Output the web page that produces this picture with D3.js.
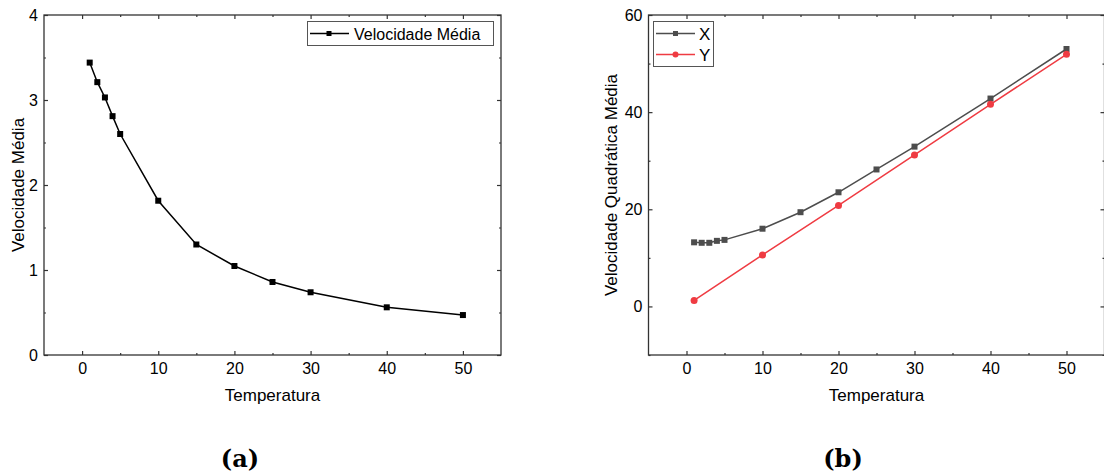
<!DOCTYPE html>
<html><head><meta charset="utf-8">
<script src="https://cdn.jsdelivr.net/npm/d3@7/dist/d3.min.js"></script>
<style>body{margin:0;background:#fff}svg{display:block}</style>
</head><body>
<svg id="c" width="1104" height="475"></svg>
<script>
const temps = [1,2,3,4,5,10,15,20,25,30,40,50];
const velMedia = [3.44,3.21,3.03,2.81,2.60,1.815,1.30,1.047,0.859,0.738,0.561,0.47];
const tempsX = [1,2,3,4,5,10,15,20,25,30,40,50];
const vqmX = [13.2,13.1,13.1,13.5,13.7,16.0,19.4,23.5,28.2,32.9,42.8,53.0];
const tempsY = [1,10,20,30,40,50];
const vqmY = [1.24,10.6,20.8,31.2,41.6,51.9];
const xTicks = [0,10,20,30,40,50];
const yTicksA = [0,1,2,3,4];
const yTicksB = [0,20,40,60];

const svg = d3.select('#c');
const FONT = 'Liberation Sans, Arial, sans-serif';
const frameColor = '#333';

function panel(opt){
  const g = svg.append('g');
  const x = d3.scaleLinear().domain([-5,55]).range([opt.x0,opt.x1]);
  const y = d3.scaleLinear().domain(opt.ydom).range([opt.y1,opt.y0]);
  const xMinor = d3.range(-5,56,5).filter(v=>v%10!==0 && v>-5 && v<55);
  const yMinor = opt.yMinor;
  const bottom = d3.axisBottom(x).tickValues(xTicks).tickSize(-4).tickPadding(8).tickFormat(d3.format('d'));
  const left = d3.axisLeft(y).tickValues(opt.yTicks).tickSize(-4).tickPadding(6).tickFormat(d3.format('d'));
  const top = d3.axisTop(x).tickValues(xTicks).tickSize(-4).tickFormat('');
  const right = d3.axisRight(y).tickValues(opt.yTicks).tickSize(-4).tickFormat('');
  const mk = (ax, tr) => {
    const a = g.append('g').attr('transform',tr).call(ax);
    a.select('.domain').remove();
    a.selectAll('line').attr('stroke',frameColor).attr('stroke-width',1.2);
    a.selectAll('text').attr('font-family',FONT).attr('font-size',16).attr('fill','#000');
    return a;
  };
  mk(bottom,`translate(0,${opt.y1})`);
  mk(left,`translate(${opt.x0},0)`);
  mk(top,`translate(0,${opt.y0})`);
  mk(right,`translate(${opt.x1},0)`);
  const mkMinor = (ax,tr)=>{
    const a = g.append('g').attr('transform',tr).call(ax);
    a.select('.domain').remove();
    a.selectAll('line').attr('stroke',frameColor).attr('stroke-width',1.2);
  };
  mkMinor(d3.axisBottom(x).tickValues(xMinor).tickSize(-2).tickFormat(''),`translate(0,${opt.y1})`);
  mkMinor(d3.axisTop(x).tickValues(xMinor).tickSize(-2).tickFormat(''),`translate(0,${opt.y0})`);
  mkMinor(d3.axisLeft(y).tickValues(yMinor).tickSize(-2).tickFormat(''),`translate(${opt.x0},0)`);
  mkMinor(d3.axisRight(y).tickValues(yMinor).tickSize(-2).tickFormat(''),`translate(${opt.x1},0)`);
  g.append('rect').attr('x',opt.x0).attr('y',opt.y0).attr('width',opt.x1-opt.x0).attr('height',opt.y1-opt.y0)
    .attr('fill','none').attr('stroke',frameColor).attr('stroke-width',1.3);
  g.append('text').attr('x',(opt.x0+opt.x1)/2).attr('y',401).attr('text-anchor','middle')
    .attr('font-family',FONT).attr('font-size',17).text('Temperatura');
  g.append('text').attr('transform',`translate(${opt.ytx},${(opt.y0+opt.y1)/2}) rotate(-90)`).attr('text-anchor','middle')
    .attr('font-family',FONT).attr('font-size',17).text(opt.ytitle);
  g.append('text').attr('x',opt.capx).attr('y',467).attr('text-anchor','middle')
    .attr('font-family','DejaVu Serif, Liberation Serif, serif').attr('font-weight','bold').attr('font-size',24).text(opt.cap);
  return {g,x,y};
}

// Panel (a)
const A = panel({x0:44,x1:501,y0:15,y1:355,ydom:[0,4],yTicks:yTicksA,yMinor:[0.5,1.5,2.5,3.5],
  ytx:24,ytitle:'Velocidade Média',capx:240,cap:'(a)'});
const dA = temps.map((t,i)=>[t,velMedia[i]]);
A.g.append('path').datum(dA).attr('fill','none').attr('stroke','#000').attr('stroke-width',1.5)
  .attr('d',d3.line().x(d=>A.x(d[0])).y(d=>A.y(d[1])));
A.g.selectAll('rect.m').data(dA).enter().append('rect').attr('class','m')
  .attr('x',d=>A.x(d[0])-3).attr('y',d=>A.y(d[1])-3).attr('width',6).attr('height',6).attr('fill','#000');
const LA = A.g.append('g');
LA.append('rect').attr('x',307.5).attr('y',21.5).attr('width',186).attr('height',24).attr('fill','#fff').attr('stroke','#555').attr('stroke-width',1);
LA.append('line').attr('x1',310).attr('x2',349).attr('y1',33.5).attr('y2',33.5).attr('stroke','#000').attr('stroke-width',1.5);
LA.append('rect').attr('x',326.5).attr('y',31).attr('width',5).attr('height',5).attr('fill','#000');
LA.append('text').attr('x',354).attr('y',39.5).attr('font-family',FONT).attr('font-size',16).text('Velocidade Média');

// Panel (b)
const B = panel({x0:648.5,x1:1104.5,y0:15,y1:355,ydom:[-10,60],yTicks:yTicksB,yMinor:[-10,10,30,50],
  ytx:617,ytitle:'Velocidade Quadrática Média',capx:843,cap:'(b)'});
const grayC = '#4d4d4d', redC = '#ef3b42';
const dX = tempsX.map((t,i)=>[t,vqmX[i]]);
const dY = tempsY.map((t,i)=>[t,vqmY[i]]);
const ln = d3.line().x(d=>B.x(d[0])).y(d=>B.y(d[1]));
B.g.append('path').datum(dX).attr('fill','none').attr('stroke',grayC).attr('stroke-width',1.5).attr('d',ln);
B.g.append('path').datum(dY).attr('fill','none').attr('stroke',redC).attr('stroke-width',1.5).attr('d',ln);
B.g.selectAll('rect.mx').data(dX).enter().append('rect').attr('class','mx')
  .attr('x',d=>B.x(d[0])-3).attr('y',d=>B.y(d[1])-3).attr('width',6).attr('height',6).attr('fill',grayC);
B.g.selectAll('circle.my').data(dY).enter().append('circle').attr('class','my')
  .attr('cx',d=>B.x(d[0])).attr('cy',d=>B.y(d[1])).attr('r',3.5).attr('fill',redC);
const LB = B.g.append('g');
LB.append('rect').attr('x',653.5).attr('y',21.5).attr('width',60).attr('height',45).attr('fill','#fff').attr('stroke','#555').attr('stroke-width',1);
LB.append('line').attr('x1',656).attr('x2',695).attr('y1',33.5).attr('y2',33.5).attr('stroke',grayC).attr('stroke-width',1.5);
LB.append('rect').attr('x',673).attr('y',31).attr('width',5).attr('height',5).attr('fill',grayC);
LB.append('text').attr('x',699).attr('y',40).attr('font-family',FONT).attr('font-size',17).text('X');
LB.append('line').attr('x1',656).attr('x2',695).attr('y1',54.5).attr('y2',54.5).attr('stroke',redC).attr('stroke-width',1.5);
LB.append('circle').attr('cx',675.5).attr('cy',54.5).attr('r',3).attr('fill',redC);
LB.append('text').attr('x',699).attr('y',61).attr('font-family',FONT).attr('font-size',17).text('Y');
</script>
</body></html>
